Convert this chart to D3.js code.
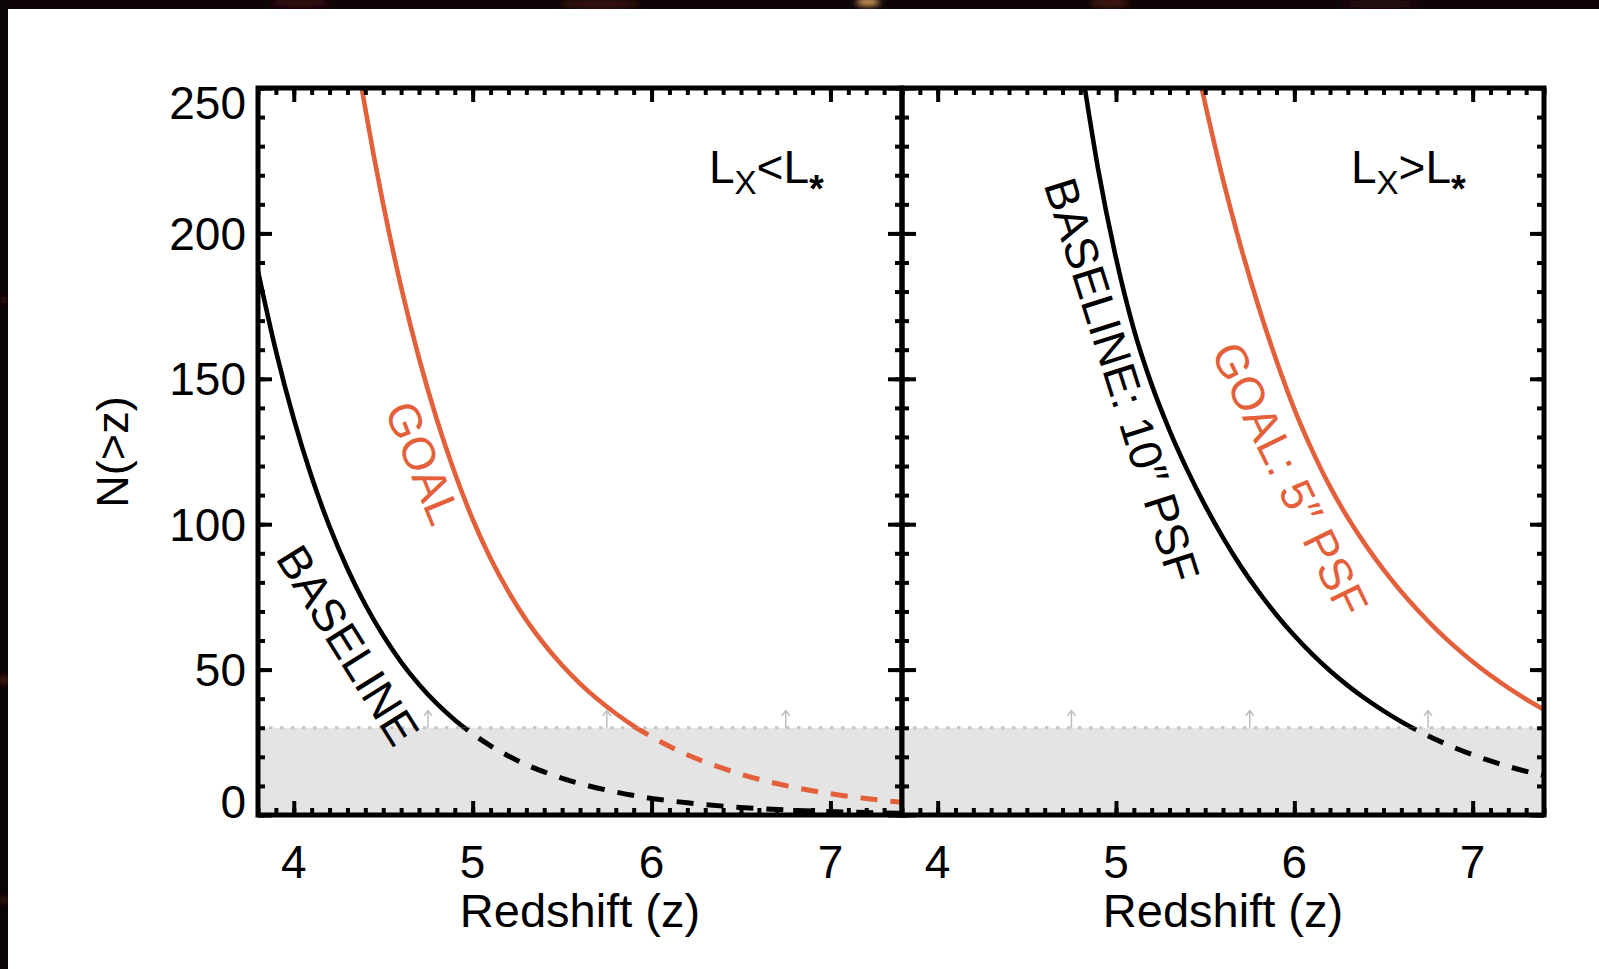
<!DOCTYPE html>
<html>
<head>
<meta charset="utf-8">
<script src="https://cdn.jsdelivr.net/npm/d3@7"></script>
<style>
  html, body { margin: 0; padding: 0; background: #ffffff; }
  svg { display: block; }
  text { font-family: "Liberation Sans", Arial, Helvetica, sans-serif; fill: #000; }
</style>
</head>
<body>
<script>
// ---- data ----------------------------------------------------------------
const redshiftTicks = [4, 5, 6, 7];
const countTicks = [0, 50, 100, 150, 200, 250];
const detectionLimit = 30;          // N below this is shaded / dashed
const arrowRedshifts = [4.75, 5.75, 6.75];

// L_X < L_* panel
const faintBaseZ = [3.8, 3.9, 4.0, 4.1, 4.2, 4.3, 4.4, 4.5, 4.6, 4.7, 4.8, 4.9, 5.0, 5.1, 5.2, 5.3, 5.4, 5.6, 5.8, 6.0, 6.2, 6.4, 6.6, 6.8, 7.0, 7.2, 7.4];
const faintBaseN = [187.0, 159.6, 136.2, 116.2, 99.2, 84.7, 72.3, 61.7, 52.6, 44.9, 38.3, 32.7, 27.9, 23.8, 20.3, 17.3, 14.8, 10.8, 7.9, 5.7, 4.2, 3.05, 2.2, 1.6, 1.2, 0.85, 0.6];
const faintGoalZ = [4.38, 4.4, 4.5, 4.6, 4.7, 4.8, 4.9, 5.0, 5.1, 5.2, 5.3, 5.4, 5.5, 5.6, 5.7, 5.8, 5.9, 6.0, 6.2, 6.4, 6.6, 6.8, 7.0, 7.2, 7.4];
const faintGoalN = [250, 242.8, 210.0, 181.6, 157.1, 135.9, 117.6, 101.7, 88.2, 76.8, 67.0, 58.7, 51.5, 45.2, 39.7, 34.9, 30.6, 26.9, 20.7, 16.0, 12.3, 9.5, 7.3, 5.65, 4.36];

// L_X > L_* panel
const brightBaseZ = [4.825, 4.9, 5.0, 5.1, 5.2, 5.3, 5.4, 5.5, 5.6, 5.7, 5.8, 5.9, 6.0, 6.1, 6.2, 6.3, 6.4, 6.5, 6.6, 6.7, 6.8, 6.9, 7.0, 7.1, 7.2, 7.3, 7.4];
const brightBaseN = [250, 222, 191.5, 167, 148, 132.3, 118.6, 106.4, 95.4, 85.5, 76.7, 68.8, 61.7, 55.3, 49.6, 44.5, 39.9, 35.8, 32.1, 28.8, 25.8, 23.1, 20.7, 18.6, 16.7, 15.0, 13.6];
const brightGoalZ = [5.48, 5.6, 5.7, 5.8, 5.9, 6.0, 6.1, 6.2, 6.3, 6.4, 6.5, 6.6, 6.7, 6.8, 6.9, 7.0, 7.1, 7.2, 7.3, 7.4];
const brightGoalN = [250, 218.5, 195.4, 174.7, 156.2, 139.6, 125.4, 112.9, 102.2, 92.8, 84.4, 76.8, 69.9, 63.6, 57.9, 52.7, 48.0, 43.7, 39.8, 36.2];

// ---- layout --------------------------------------------------------------
const W = 1599, H = 969;
const plotTop = 88, plotBottom = 815;
const ORANGE = "#e4603a";
const FONT = 46;

const svg = d3.select("body").append("svg").attr("width", W).attr("height", H);
const defs = svg.append("defs");
defs.append("filter").attr("id", "glow").attr("x", "-50%").attr("y", "-50%").attr("width", "200%").attr("height", "200%")
  .append("feGaussianBlur").attr("stdDeviation", 3);

svg.append("rect").attr("width", W).attr("height", H).attr("fill", "#ffffff");

// dark strips along the top and left edges
const strip = svg.append("g");
strip.append("rect").attr("x", 0).attr("y", 0).attr("width", W).attr("height", 9).attr("fill", "#0e0507");
strip.append("rect").attr("x", 0).attr("y", 0).attr("width", 8).attr("height", H).attr("fill", "#0b0408");
const glowSpots = strip.append("g").attr("filter", "url(#glow)");
[[868, 2, 12, "#e0a860"], [300, 3, 30, "#3a0f12"], [600, 4, 40, "#3d1410"], [1110, 3, 20, "#4a1a10"],
 [1380, 4, 40, "#2a0c18"], [4, 300, 4, "#3b1010"], [4, 680, 5, "#5a2410"], [4, 900, 5, "#3a1208"]]
  .forEach(([cx, cy, r, c]) => {
    glowSpots.append("ellipse").attr("cx", cx).attr("cy", cy).attr("rx", r).attr("ry", 4).attr("fill", c);
  });
svg.append("rect").attr("x", 8).attr("y", 9).attr("width", W - 8).attr("height", H - 9).attr("fill", "#ffffff");

const y = d3.scaleLinear().domain([0, 250]).range([plotBottom, plotTop]);

const panels = [
  { x0: 258, x1: 902, base: [faintBaseZ, faintBaseN], goal: [faintGoalZ, faintGoalN], rel: "<", yLabels: true },
  { x0: 902, x1: 1544, base: [brightBaseZ, brightBaseN], goal: [brightGoalZ, brightGoalN], rel: ">", yLabels: false }
];

const minorZ = d3.range(38, 75).map(d => d / 10);
const minorN = d3.range(0, 251, 10);

panels.forEach((p, i) => {
  const x = d3.scaleLinear().domain([3.8, 7.4]).range([p.x0, p.x1]);
  const g = svg.append("g");
  const yLim = y(detectionLimit);

  // clip regions above / below the detection limit
  defs.append("clipPath").attr("id", `above${i}`).append("rect")
    .attr("x", p.x0).attr("y", plotTop).attr("width", p.x1 - p.x0).attr("height", yLim - plotTop);
  defs.append("clipPath").attr("id", `below${i}`).append("rect")
    .attr("x", p.x0).attr("y", yLim).attr("width", p.x1 - p.x0).attr("height", plotBottom - yLim);

  // shaded region under the detection limit
  g.append("rect").attr("x", p.x0).attr("y", yLim).attr("width", p.x1 - p.x0).attr("height", plotBottom - yLim)
    .attr("fill", "#e4e4e4");
  g.append("line").attr("x1", p.x0).attr("x2", p.x1).attr("y1", yLim).attr("y2", yLim)
    .attr("stroke", "#c6c6c6").attr("stroke-width", 3).attr("stroke-dasharray", "3.5,7.5");

  // small upward arrows on the limit line
  arrowRedshifts.forEach(z => {
    const ax = x(z), tip = yLim - 17;
    g.append("line").attr("x1", ax).attr("x2", ax).attr("y1", yLim).attr("y2", tip)
      .attr("stroke", "#bdbdbd").attr("stroke-width", 1.5);
    g.append("polyline").attr("points", `${ax - 4},${tip + 5} ${ax},${tip} ${ax + 4},${tip + 5}`)
      .attr("fill", "none").attr("stroke", "#bdbdbd").attr("stroke-width", 1.5);
  });

  // curves: solid above the limit, dashed below it
  const line = d3.line().x(d => x(d[0])).y(d => y(d[1])).curve(d3.curveMonotoneX);
  [[p.base, "#000"], [p.goal, ORANGE]].forEach(([[zs, ns], color]) => {
    const pts = zs.map((z, k) => [z, ns[k]]);
    g.append("path").attr("d", line(pts)).attr("fill", "none").attr("stroke", color)
      .attr("stroke-width", 4.6).attr("clip-path", `url(#above${i})`);
    let start = 0;
    for (let k = 0; k < pts.length; k++) if (pts[k][1] >= detectionLimit) start = k;
    const low = pts.slice(start);
    if (low.length > 1 && low[low.length - 1][1] < detectionLimit) {
      g.append("path").attr("d", line(low)).attr("fill", "none").attr("stroke", color)
        .attr("stroke-width", 5).attr("stroke-dasharray", "17,13").attr("clip-path", `url(#below${i})`);
    }
  });

  // ticks on all four sides, pointing inward
  const tickGroup = g.append("g");
  const addAxis = (axis, tx, ty) => {
    const a = tickGroup.append("g").attr("transform", `translate(${tx},${ty})`).call(axis);
    a.select(".domain").remove();
    a.selectAll("line").attr("stroke", "#000").attr("stroke-width", 4);
    a.selectAll("text").remove();
  };
  addAxis(d3.axisBottom(x).tickValues(minorZ).tickSize(-7), 0, plotBottom);
  addAxis(d3.axisBottom(x).tickValues(redshiftTicks).tickSize(-14), 0, plotBottom);
  addAxis(d3.axisTop(x).tickValues(minorZ).tickSize(-7), 0, plotTop);
  addAxis(d3.axisTop(x).tickValues(redshiftTicks).tickSize(-14), 0, plotTop);
  addAxis(d3.axisLeft(y).tickValues(minorN).tickSize(-7), p.x0, 0);
  addAxis(d3.axisLeft(y).tickValues(countTicks).tickSize(-14), p.x0, 0);
  addAxis(d3.axisRight(y).tickValues(minorN).tickSize(-7), p.x1, 0);
  addAxis(d3.axisRight(y).tickValues(countTicks).tickSize(-14), p.x1, 0);

  // frame
  g.append("rect").attr("x", p.x0).attr("y", plotTop).attr("width", p.x1 - p.x0).attr("height", plotBottom - plotTop)
    .attr("fill", "none").attr("stroke", "#000").attr("stroke-width", 5);

  // x tick labels and title
  g.selectAll(".xl").data(redshiftTicks).join("text")
    .attr("x", d => x(d)).attr("y", 878).attr("text-anchor", "middle")
    .attr("font-size", FONT).text(d => d);
  g.append("text").attr("x", (p.x0 + p.x1) / 2).attr("y", 927).attr("text-anchor", "middle")
    .attr("font-size", 47).text("Redshift (z)");

  if (p.yLabels) {
    g.selectAll(".yl").data(countTicks).join("text")
      .attr("x", p.x0 - 12)
      .attr("y", d => Math.min(Math.max(y(d), plotTop + 14), plotBottom - 14))
      .attr("dy", "0.36em").attr("text-anchor", "end")
      .attr("font-size", FONT).text(d => d);
  }

  // luminosity class label
  const lum = g.append("text").attr("x", p.x1 - 193).attr("y", 183).attr("font-size", 46);
  lum.append("tspan").text("L");
  lum.append("tspan").attr("font-size", 33).attr("dy", 11).text("X");
  lum.append("tspan").attr("dy", -11).text(p.rel + "L");
  lum.append("tspan").attr("font-size", 38).attr("dy", 19).attr("font-weight", "bold").text("*");
});

// y-axis title
svg.append("text").attr("transform", "translate(112,452) rotate(-90)").attr("dy", "0.35em")
  .attr("text-anchor", "middle").attr("font-size", 45).text("N(>z)");

// curve annotations, rotated along the curves
const notes = [
  { text: "GOAL", x: 423, y: 463, angle: 68, color: ORANGE },
  { text: "BASELINE", x: 348, y: 645, angle: 58, color: "#000" },
  { text: "BASELINE: 10\u2033 PSF", x: 1122, y: 380, angle: 72.5, color: "#000" },
  { text: "GOAL: 5\u2033 PSF", x: 1290, y: 479, angle: 64, color: ORANGE }
];
notes.forEach(n => {
  svg.append("text").attr("transform", `translate(${n.x},${n.y}) rotate(${n.angle})`)
    .attr("dy", "0.35em").attr("text-anchor", "middle").attr("font-size", 46)
    .style("fill", n.color).text(n.text);
});
</script>
</body>
</html>
